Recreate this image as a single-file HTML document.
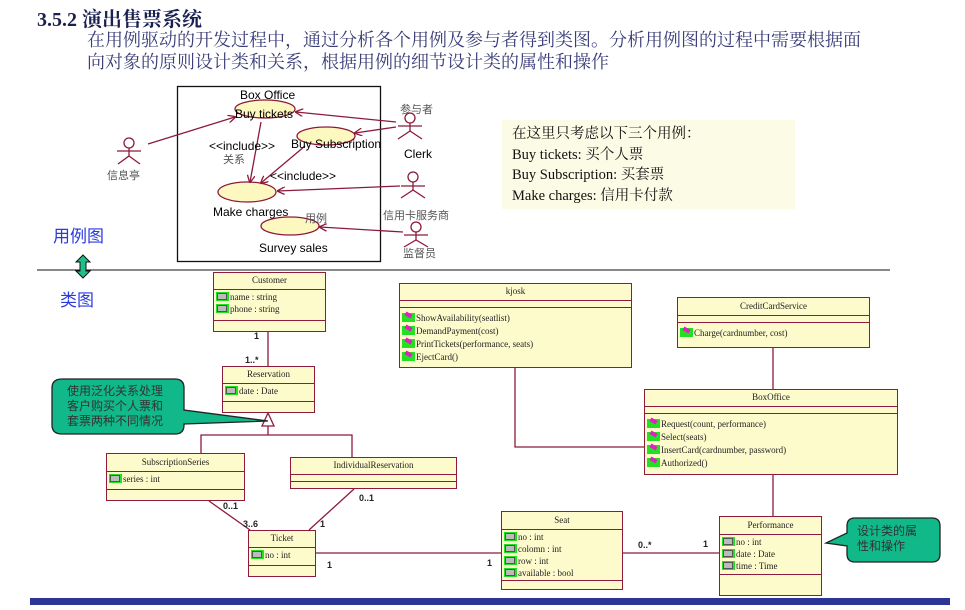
<!DOCTYPE html>
<html><head><meta charset="utf-8"><style>
body{margin:0;width:965px;height:610px;background:#fff;position:relative;overflow:hidden;font-family:"Liberation Serif","Noto Serif CJK SC",serif}
.a{position:absolute;white-space:nowrap}
.c{position:absolute;background:#fdfbcc;border:1.5px solid #8e1a3c;box-sizing:border-box;font-family:"Liberation Serif",serif;font-size:9px;color:#222}
.c .h{border-bottom:1.5px solid #8e1a3c;text-align:center;box-sizing:border-box}
.c .s{border-bottom:1.5px solid #8e1a3c;box-sizing:border-box;padding-top:1px}
.r{height:12px;line-height:12px;padding-left:2px}
.ic{display:inline-block;width:13px;height:9px;background:#22e022;vertical-align:-1px;margin-right:1px;position:relative}
.ic:after{content:"";position:absolute;left:1px;top:1px;width:8px;height:5px;border:1px solid #555;background:#bbb}
.op{display:inline-block;width:13px;height:9px;background:#22e022;vertical-align:-1px;margin-right:1px;position:relative}
.op:after{content:"";position:absolute;left:3px;top:0;width:7px;height:4px;background:#e020c0;transform:rotate(30deg)}
.ss{font-family:"Liberation Sans","Noto Sans CJK SC",sans-serif}
.lb{font-family:"Liberation Sans",sans-serif;font-size:9px;font-weight:bold;color:#222}
</style></head><body>
<div class="a" style="left:37px;top:3px;font-size:20px;font-weight:bold;color:#1a2050">3.5.2 演出售票系统</div>
<div class="a" style="left:87px;top:29px;font-size:18px;color:#3a3d78;line-height:22px">在用例驱动的开发过程中，通过分析各个用例及参与者得到类图。分析用例图的过程中需要根据面<br>向对象的原则设计类和关系，根据用例的细节设计类的属性和操作</div>

<div class="a" style="left:502px;top:120px;width:293px;height:89px;background:#fbfbe6"></div>
<div class="a" style="left:512px;top:124px;font-size:14.5px;line-height:20.5px;color:#111">在这里只考虑以下三个用例：<br>Buy tickets: 买个人票<br>Buy Subscription: 买套票<br>Make charges: 信用卡付款</div>

<svg class="a" style="left:0;top:0" width="965" height="610">
<defs><marker id="ar" markerWidth="8" markerHeight="8" refX="7" refY="4" orient="auto" markerUnits="userSpaceOnUse"><path d="M0,0 L8,4 L0,8" fill="none" stroke="#8b1a3a" stroke-width="1.3"/></marker></defs>
<rect x="177.5" y="86.5" width="203" height="175" fill="none" stroke="#111" stroke-width="1.3"/>
<g fill="#fdf8c0" stroke="#8b1a3a" stroke-width="1.3">
<ellipse cx="265" cy="109" rx="30" ry="9"/><ellipse cx="326" cy="136" rx="29" ry="9"/>
<ellipse cx="247" cy="192" rx="29" ry="10"/><ellipse cx="290" cy="226" rx="29" ry="9"/></g>
<g stroke="#8b1a3a" stroke-width="1.3" fill="none" marker-end="url(#ar)">
<line x1="148" y1="144" x2="235" y2="117"/><line x1="396" y1="122" x2="296" y2="112"/><line x1="396" y1="127" x2="355" y2="133"/>
<line x1="261" y1="122" x2="250" y2="182"/><line x1="305" y1="146" x2="261" y2="183"/><line x1="400" y1="186" x2="278" y2="191"/><line x1="403" y1="232" x2="320" y2="227"/></g>
<g stroke="#8b1a3a" stroke-width="1.3" fill="none">
<circle cx="129" cy="143" r="5"/><line x1="129" y1="148" x2="129" y2="156"/><line x1="117" y1="151" x2="141" y2="151"/><path d="M118,164 L129,156 L140,164"/>
<circle cx="410" cy="118" r="5"/><line x1="410" y1="123" x2="410" y2="131"/><line x1="398" y1="126" x2="422" y2="126"/><path d="M398,139 L410,131 L422,139"/>
<circle cx="413" cy="177" r="5"/><line x1="413" y1="182" x2="413" y2="190"/><line x1="401" y1="186" x2="425" y2="186"/><path d="M401,198 L413,190 L425,198"/>
<circle cx="416" cy="227" r="5"/><line x1="416" y1="232" x2="416" y2="240"/><line x1="404" y1="235" x2="428" y2="235"/><path d="M404,247 L416,240 L428,247"/></g>
<line x1="37" y1="270" x2="890" y2="270" stroke="#111" stroke-width="1"/>
<path d="M83,255 L90,262 L86,262 L86,271 L90,271 L83,278 L76,271 L80,271 L80,262 L76,262 Z" fill="#1fbf8a" stroke="#111" stroke-width="1"/>
<g stroke="#8e1a3c" stroke-width="1.3" fill="none">
<line x1="268" y1="332" x2="268" y2="366"/>
<line x1="268" y1="426" x2="268" y2="435"/><polyline points="201,454 201,435 352,435 352,457"/>
<line x1="209" y1="501" x2="250" y2="530"/><line x1="354" y1="489" x2="309" y2="530"/>
<line x1="316" y1="553" x2="501" y2="553"/><line x1="623" y1="553" x2="719" y2="553"/>
<polyline points="515,368 515,447 646,447"/><line x1="773" y1="348" x2="773" y2="389"/><line x1="773" y1="475" x2="773" y2="516"/></g>
<path d="M268,413 L274,426 L262,426 Z" fill="#fff" stroke="#8e1a3c" stroke-width="1.3"/>
<path d="M62,379 H175 Q184,379 184,388 V410 L268,421 L184,424 V425 Q184,434 175,434 H62 Q52,434 52,425 V388 Q52,379 62,379 Z" fill="#10b88a" stroke="#222" stroke-width="1.3"/>
<path d="M855,518 H932 Q940,518 940,526 V554 Q940,562 932,562 H855 Q847,562 847,554 V546 L826,543 L847,533 V526 Q847,518 855,518 Z" fill="#10b88a" stroke="#222" stroke-width="1.3"/>
<rect x="30" y="598" width="920" height="7" fill="#2a3596"/>
</svg>

<div class="a ss" style="left:240px;top:88px;font-size:12px">Box Office</div>
<div class="a ss" style="left:235px;top:107px;font-size:12px">Buy tickets</div>
<div class="a ss" style="left:291px;top:137px;font-size:12px">Buy Subscription</div>
<div class="a ss" style="left:209px;top:139px;font-size:12px">&lt;&lt;include&gt;&gt;</div>
<div class="a ss" style="left:223px;top:151px;font-size:11px;color:#555">关系</div>
<div class="a ss" style="left:270px;top:169px;font-size:12px">&lt;&lt;include&gt;&gt;</div>
<div class="a ss" style="left:213px;top:205px;font-size:12px">Make charges</div>
<div class="a ss" style="left:305px;top:210px;font-size:11px;color:#555">用例</div>
<div class="a ss" style="left:259px;top:241px;font-size:12px">Survey sales</div>
<div class="a ss" style="left:400px;top:101px;font-size:11px;color:#555">参与者</div>
<div class="a ss" style="left:404px;top:147px;font-size:12px">Clerk</div>
<div class="a ss" style="left:107px;top:167px;font-size:11px;color:#555">信息亭</div>
<div class="a ss" style="left:383px;top:207px;font-size:11px;color:#555">信用卡服务商</div>
<div class="a ss" style="left:403px;top:245px;font-size:11px;color:#555">监督员</div>
<div class="a ss" style="left:53px;top:222px;font-size:17px;color:#2a3ae0">用例图</div>
<div class="a ss" style="left:60px;top:286px;font-size:17px;color:#2a3ae0">类图</div>
<div class="a ss" style="left:67px;top:384px;font-size:12px;line-height:15px;color:#333">使用泛化关系处理<br>客户购买个人票和<br>套票两种不同情况</div>
<div class="a ss" style="left:857px;top:524px;font-size:12px;line-height:15px;color:#333">设计类的属<br>性和操作</div>

<div class="c" style="left:213px;top:272px;width:113px;height:60px"><div class="h" style="height:17px;line-height:15px">Customer</div><div class="s" style="height:31px"><div class="r"><span class="ic"></span>name : string</div><div class="r"><span class="ic"></span>phone : string</div></div></div>
<div class="c" style="left:222px;top:366px;width:93px;height:47px"><div class="h" style="height:17px;line-height:15px">Reservation</div><div class="s" style="height:18px"><div class="r"><span class="ic"></span>date : Date</div></div></div>
<div class="c" style="left:106px;top:453px;width:139px;height:48px"><div class="h" style="height:18px;line-height:16px">SubscriptionSeries</div><div class="s" style="height:18px"><div class="r"><span class="ic"></span>series : int</div></div></div>
<div class="c" style="left:290px;top:457px;width:167px;height:32px"><div class="h" style="height:17px;line-height:15px">IndividualReservation</div><div class="s" style="height:7px"></div></div>
<div class="c" style="left:248px;top:530px;width:68px;height:47px"><div class="h" style="height:17px;line-height:15px">Ticket</div><div class="s" style="height:18px"><div class="r"><span class="ic"></span>no : int</div></div></div>
<div class="c" style="left:399px;top:283px;width:233px;height:85px"><div class="h" style="height:17px;line-height:15px">kjosk</div><div class="s" style="height:7px"></div><div style="padding-top:4px"><div class="r" style="height:13px"><span class="op"></span>ShowAvailability(seatlist)</div><div class="r" style="height:13px"><span class="op"></span>DemandPayment(cost)</div><div class="r" style="height:13px"><span class="op"></span>PrintTickets(performance, seats)</div><div class="r" style="height:13px"><span class="op"></span>EjectCard()</div></div></div>
<div class="c" style="left:677px;top:297px;width:193px;height:51px"><div class="h" style="height:18px;line-height:16px">CreditCardService</div><div class="s" style="height:7px"></div><div style="padding-top:4px"><div class="r"><span class="op"></span>Charge(cardnumber, cost)</div></div></div>
<div class="c" style="left:644px;top:389px;width:254px;height:86px"><div class="h" style="height:17px;line-height:15px">BoxOffice</div><div class="s" style="height:7px"></div><div style="padding-top:4px"><div class="r" style="height:13px"><span class="op"></span>Request(count, performance)</div><div class="r" style="height:13px"><span class="op"></span>Select(seats)</div><div class="r" style="height:13px"><span class="op"></span>InsertCard(cardnumber, password)</div><div class="r" style="height:13px"><span class="op"></span>Authorized()</div></div></div>
<div class="c" style="left:501px;top:511px;width:122px;height:79px"><div class="h" style="height:18px;line-height:16px">Seat</div><div class="s" style="height:51px"><div class="r"><span class="ic"></span>no : int</div><div class="r"><span class="ic"></span>colomn : int</div><div class="r"><span class="ic"></span>row : int</div><div class="r"><span class="ic"></span>available : bool</div></div></div>
<div class="c" style="left:719px;top:516px;width:103px;height:80px"><div class="h" style="height:18px;line-height:16px">Performance</div><div class="s" style="height:40px"><div class="r"><span class="ic"></span>no : int</div><div class="r"><span class="ic"></span>date : Date</div><div class="r"><span class="ic"></span>time : Time</div></div></div>

<div class="a lb" style="left:254px;top:331px">1</div>
<div class="a lb" style="left:245px;top:355px">1..*</div>
<div class="a lb" style="left:223px;top:501px">0..1</div>
<div class="a lb" style="left:243px;top:519px">3..6</div>
<div class="a lb" style="left:359px;top:493px">0..1</div>
<div class="a lb" style="left:320px;top:519px">1</div>
<div class="a lb" style="left:327px;top:560px">1</div>
<div class="a lb" style="left:487px;top:558px">1</div>
<div class="a lb" style="left:638px;top:540px">0..*</div>
<div class="a lb" style="left:703px;top:539px">1</div>
</body></html>
